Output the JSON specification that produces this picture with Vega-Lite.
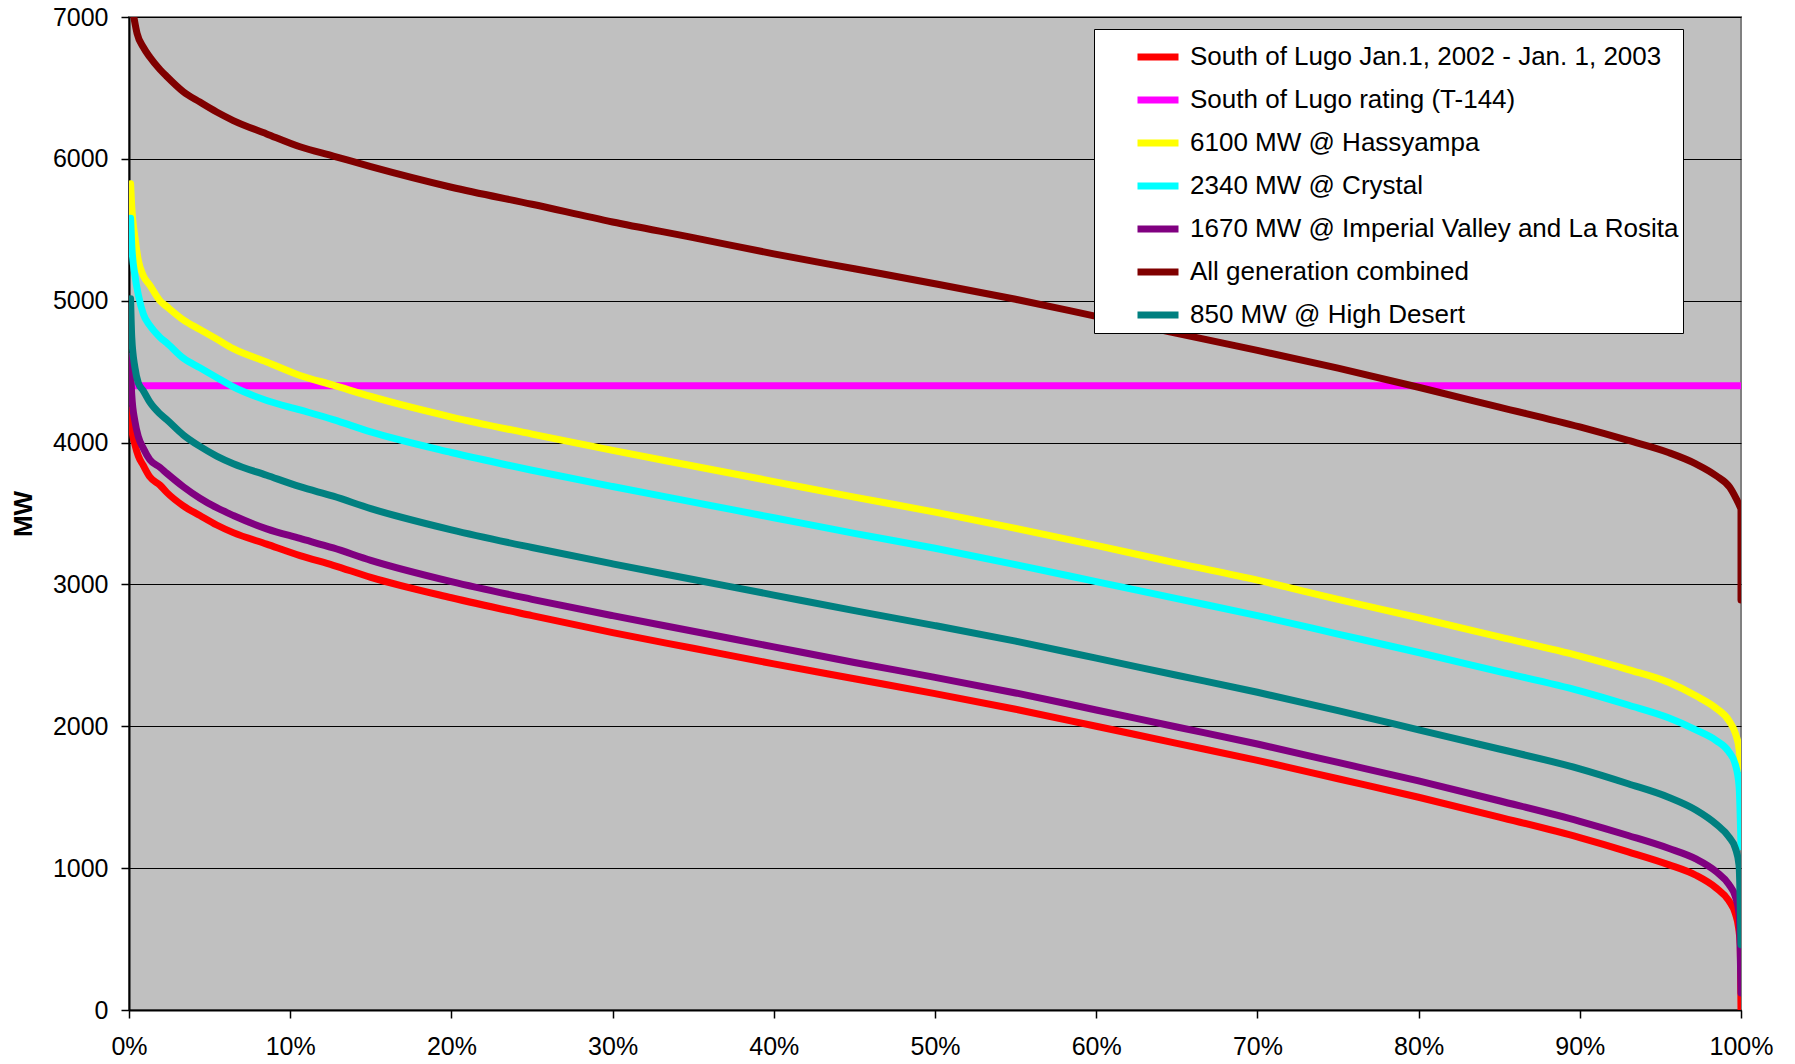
{
  "$schema": "https://vega.github.io/schema/vega-lite/v6.json",
  "width": 1612,
  "height": 993,
  "autosize": {"type": "none"},
  "padding": {"left": 129, "top": 17, "right": 54, "bottom": 54},
  "background": "white",
  "config": {
    "font": "Liberation Sans",
    "view": {"fill": "#C0C0C0", "stroke": "#808080", "strokeWidth": 2},
    "axis": {"labelFont": "Liberation Sans", "labelFontSize": 25, "labelColor": "black", "domainColor": "black", "domainWidth": 2, "tickColor": "black", "tickWidth": 1.5, "tickSize": 8, "gridColor": "black", "gridWidth": 1, "gridOpacity": 1}
  },
  "datasets": {
    "curves": [
      {"s": "South of Lugo Jan.1, 2002 - Jan. 1, 2003", "p": 0.0006, "mw": 4230},
      {"s": "South of Lugo Jan.1, 2002 - Jan. 1, 2003", "p": 0.0017, "mw": 4095},
      {"s": "South of Lugo Jan.1, 2002 - Jan. 1, 2003", "p": 0.0037, "mw": 3986},
      {"s": "South of Lugo Jan.1, 2002 - Jan. 1, 2003", "p": 0.0058, "mw": 3905},
      {"s": "South of Lugo Jan.1, 2002 - Jan. 1, 2003", "p": 0.0089, "mw": 3838},
      {"s": "South of Lugo Jan.1, 2002 - Jan. 1, 2003", "p": 0.013, "mw": 3757},
      {"s": "South of Lugo Jan.1, 2002 - Jan. 1, 2003", "p": 0.0192, "mw": 3700},
      {"s": "South of Lugo Jan.1, 2002 - Jan. 1, 2003", "p": 0.0234, "mw": 3649},
      {"s": "South of Lugo Jan.1, 2002 - Jan. 1, 2003", "p": 0.0337, "mw": 3554},
      {"s": "South of Lugo Jan.1, 2002 - Jan. 1, 2003", "p": 0.044, "mw": 3486},
      {"s": "South of Lugo Jan.1, 2002 - Jan. 1, 2003", "p": 0.0544, "mw": 3419},
      {"s": "South of Lugo Jan.1, 2002 - Jan. 1, 2003", "p": 0.0647, "mw": 3365},
      {"s": "South of Lugo Jan.1, 2002 - Jan. 1, 2003", "p": 0.0854, "mw": 3284},
      {"s": "South of Lugo Jan.1, 2002 - Jan. 1, 2003", "p": 0.1061, "mw": 3203},
      {"s": "South of Lugo Jan.1, 2002 - Jan. 1, 2003", "p": 0.1267, "mw": 3135},
      {"s": "South of Lugo Jan.1, 2002 - Jan. 1, 2003", "p": 0.15, "mw": 3050},
      {"s": "South of Lugo Jan.1, 2002 - Jan. 1, 2003", "p": 0.2, "mw": 2906},
      {"s": "South of Lugo Jan.1, 2002 - Jan. 1, 2003", "p": 0.25, "mw": 2780},
      {"s": "South of Lugo Jan.1, 2002 - Jan. 1, 2003", "p": 0.3, "mw": 2660},
      {"s": "South of Lugo Jan.1, 2002 - Jan. 1, 2003", "p": 0.35, "mw": 2550},
      {"s": "South of Lugo Jan.1, 2002 - Jan. 1, 2003", "p": 0.4, "mw": 2440},
      {"s": "South of Lugo Jan.1, 2002 - Jan. 1, 2003", "p": 0.45, "mw": 2335},
      {"s": "South of Lugo Jan.1, 2002 - Jan. 1, 2003", "p": 0.5, "mw": 2230},
      {"s": "South of Lugo Jan.1, 2002 - Jan. 1, 2003", "p": 0.55, "mw": 2120},
      {"s": "South of Lugo Jan.1, 2002 - Jan. 1, 2003", "p": 0.6, "mw": 2000},
      {"s": "South of Lugo Jan.1, 2002 - Jan. 1, 2003", "p": 0.65, "mw": 1880},
      {"s": "South of Lugo Jan.1, 2002 - Jan. 1, 2003", "p": 0.7, "mw": 1760},
      {"s": "South of Lugo Jan.1, 2002 - Jan. 1, 2003", "p": 0.75, "mw": 1630},
      {"s": "South of Lugo Jan.1, 2002 - Jan. 1, 2003", "p": 0.8, "mw": 1500},
      {"s": "South of Lugo Jan.1, 2002 - Jan. 1, 2003", "p": 0.85, "mw": 1360},
      {"s": "South of Lugo Jan.1, 2002 - Jan. 1, 2003", "p": 0.9, "mw": 1215},
      {"s": "South of Lugo Jan.1, 2002 - Jan. 1, 2003", "p": 0.93, "mw": 1115},
      {"s": "South of Lugo Jan.1, 2002 - Jan. 1, 2003", "p": 0.955, "mw": 1025},
      {"s": "South of Lugo Jan.1, 2002 - Jan. 1, 2003", "p": 0.972, "mw": 950},
      {"s": "South of Lugo Jan.1, 2002 - Jan. 1, 2003", "p": 0.9846, "mw": 860},
      {"s": "South of Lugo Jan.1, 2002 - Jan. 1, 2003", "p": 0.9925, "mw": 770},
      {"s": "South of Lugo Jan.1, 2002 - Jan. 1, 2003", "p": 0.9965, "mw": 680},
      {"s": "South of Lugo Jan.1, 2002 - Jan. 1, 2003", "p": 0.9985, "mw": 580},
      {"s": "South of Lugo Jan.1, 2002 - Jan. 1, 2003", "p": 0.9996, "mw": 450},
      {"s": "South of Lugo Jan.1, 2002 - Jan. 1, 2003", "p": 1.0, "mw": 0},

      {"s": "South of Lugo rating (T-144)", "p": 0.0, "mw": 4400},
      {"s": "South of Lugo rating (T-144)", "p": 1.0, "mw": 4400},

      {"s": "6100 MW @ Hassyampa", "p": 0.001, "mw": 5824},
      {"s": "6100 MW @ Hassyampa", "p": 0.0017, "mw": 5662},
      {"s": "6100 MW @ Hassyampa", "p": 0.0037, "mw": 5446},
      {"s": "6100 MW @ Hassyampa", "p": 0.0058, "mw": 5284},
      {"s": "6100 MW @ Hassyampa", "p": 0.0089, "mw": 5176},
      {"s": "6100 MW @ Hassyampa", "p": 0.013, "mw": 5108},
      {"s": "6100 MW @ Hassyampa", "p": 0.0192, "mw": 5000},
      {"s": "6100 MW @ Hassyampa", "p": 0.0234, "mw": 4959},
      {"s": "6100 MW @ Hassyampa", "p": 0.0337, "mw": 4865},
      {"s": "6100 MW @ Hassyampa", "p": 0.044, "mw": 4797},
      {"s": "6100 MW @ Hassyampa", "p": 0.0544, "mw": 4730},
      {"s": "6100 MW @ Hassyampa", "p": 0.0647, "mw": 4662},
      {"s": "6100 MW @ Hassyampa", "p": 0.0854, "mw": 4568},
      {"s": "6100 MW @ Hassyampa", "p": 0.1061, "mw": 4473},
      {"s": "6100 MW @ Hassyampa", "p": 0.1267, "mw": 4405},
      {"s": "6100 MW @ Hassyampa", "p": 0.15, "mw": 4325},
      {"s": "6100 MW @ Hassyampa", "p": 0.2, "mw": 4180},
      {"s": "6100 MW @ Hassyampa", "p": 0.25, "mw": 4060},
      {"s": "6100 MW @ Hassyampa", "p": 0.3, "mw": 3945},
      {"s": "6100 MW @ Hassyampa", "p": 0.35, "mw": 3835},
      {"s": "6100 MW @ Hassyampa", "p": 0.4, "mw": 3725},
      {"s": "6100 MW @ Hassyampa", "p": 0.45, "mw": 3615},
      {"s": "6100 MW @ Hassyampa", "p": 0.5, "mw": 3510},
      {"s": "6100 MW @ Hassyampa", "p": 0.55, "mw": 3395},
      {"s": "6100 MW @ Hassyampa", "p": 0.6, "mw": 3275},
      {"s": "6100 MW @ Hassyampa", "p": 0.65, "mw": 3150},
      {"s": "6100 MW @ Hassyampa", "p": 0.7, "mw": 3030},
      {"s": "6100 MW @ Hassyampa", "p": 0.75, "mw": 2895},
      {"s": "6100 MW @ Hassyampa", "p": 0.8, "mw": 2765},
      {"s": "6100 MW @ Hassyampa", "p": 0.85, "mw": 2630},
      {"s": "6100 MW @ Hassyampa", "p": 0.9, "mw": 2495},
      {"s": "6100 MW @ Hassyampa", "p": 0.93, "mw": 2400},
      {"s": "6100 MW @ Hassyampa", "p": 0.955, "mw": 2310},
      {"s": "6100 MW @ Hassyampa", "p": 0.972, "mw": 2215},
      {"s": "6100 MW @ Hassyampa", "p": 0.9846, "mw": 2127},
      {"s": "6100 MW @ Hassyampa", "p": 0.9925, "mw": 2040},
      {"s": "6100 MW @ Hassyampa", "p": 0.9965, "mw": 1950},
      {"s": "6100 MW @ Hassyampa", "p": 0.9988, "mw": 1840},
      {"s": "6100 MW @ Hassyampa", "p": 1.0, "mw": 1700},

      {"s": "2340 MW @ Crystal", "p": 0.001, "mw": 5581},
      {"s": "2340 MW @ Crystal", "p": 0.0017, "mw": 5392},
      {"s": "2340 MW @ Crystal", "p": 0.0037, "mw": 5176},
      {"s": "2340 MW @ Crystal", "p": 0.0058, "mw": 5041},
      {"s": "2340 MW @ Crystal", "p": 0.0089, "mw": 4905},
      {"s": "2340 MW @ Crystal", "p": 0.013, "mw": 4824},
      {"s": "2340 MW @ Crystal", "p": 0.0192, "mw": 4743},
      {"s": "2340 MW @ Crystal", "p": 0.0234, "mw": 4703},
      {"s": "2340 MW @ Crystal", "p": 0.0337, "mw": 4595},
      {"s": "2340 MW @ Crystal", "p": 0.044, "mw": 4527},
      {"s": "2340 MW @ Crystal", "p": 0.0544, "mw": 4459},
      {"s": "2340 MW @ Crystal", "p": 0.0647, "mw": 4392},
      {"s": "2340 MW @ Crystal", "p": 0.0854, "mw": 4297},
      {"s": "2340 MW @ Crystal", "p": 0.1061, "mw": 4230},
      {"s": "2340 MW @ Crystal", "p": 0.1267, "mw": 4162},
      {"s": "2340 MW @ Crystal", "p": 0.15, "mw": 4075},
      {"s": "2340 MW @ Crystal", "p": 0.2, "mw": 3930},
      {"s": "2340 MW @ Crystal", "p": 0.25, "mw": 3805},
      {"s": "2340 MW @ Crystal", "p": 0.3, "mw": 3690},
      {"s": "2340 MW @ Crystal", "p": 0.35, "mw": 3580},
      {"s": "2340 MW @ Crystal", "p": 0.4, "mw": 3470},
      {"s": "2340 MW @ Crystal", "p": 0.45, "mw": 3360},
      {"s": "2340 MW @ Crystal", "p": 0.5, "mw": 3255},
      {"s": "2340 MW @ Crystal", "p": 0.55, "mw": 3140},
      {"s": "2340 MW @ Crystal", "p": 0.6, "mw": 3020},
      {"s": "2340 MW @ Crystal", "p": 0.65, "mw": 2900},
      {"s": "2340 MW @ Crystal", "p": 0.7, "mw": 2780},
      {"s": "2340 MW @ Crystal", "p": 0.75, "mw": 2650},
      {"s": "2340 MW @ Crystal", "p": 0.8, "mw": 2520},
      {"s": "2340 MW @ Crystal", "p": 0.85, "mw": 2385},
      {"s": "2340 MW @ Crystal", "p": 0.9, "mw": 2250},
      {"s": "2340 MW @ Crystal", "p": 0.93, "mw": 2150},
      {"s": "2340 MW @ Crystal", "p": 0.955, "mw": 2060},
      {"s": "2340 MW @ Crystal", "p": 0.972, "mw": 1975},
      {"s": "2340 MW @ Crystal", "p": 0.9846, "mw": 1899},
      {"s": "2340 MW @ Crystal", "p": 0.9925, "mw": 1820},
      {"s": "2340 MW @ Crystal", "p": 0.9965, "mw": 1730},
      {"s": "2340 MW @ Crystal", "p": 0.9988, "mw": 1580},
      {"s": "2340 MW @ Crystal", "p": 1.0, "mw": 1150},

      {"s": "1670 MW @ Imperial Valley and La Rosita", "p": 0.0006, "mw": 4608},
      {"s": "1670 MW @ Imperial Valley and La Rosita", "p": 0.0017, "mw": 4338},
      {"s": "1670 MW @ Imperial Valley and La Rosita", "p": 0.0037, "mw": 4149},
      {"s": "1670 MW @ Imperial Valley and La Rosita", "p": 0.0058, "mw": 4041},
      {"s": "1670 MW @ Imperial Valley and La Rosita", "p": 0.0089, "mw": 3959},
      {"s": "1670 MW @ Imperial Valley and La Rosita", "p": 0.013, "mw": 3878},
      {"s": "1670 MW @ Imperial Valley and La Rosita", "p": 0.0192, "mw": 3825},
      {"s": "1670 MW @ Imperial Valley and La Rosita", "p": 0.0234, "mw": 3784},
      {"s": "1670 MW @ Imperial Valley and La Rosita", "p": 0.0337, "mw": 3689},
      {"s": "1670 MW @ Imperial Valley and La Rosita", "p": 0.044, "mw": 3608},
      {"s": "1670 MW @ Imperial Valley and La Rosita", "p": 0.0544, "mw": 3541},
      {"s": "1670 MW @ Imperial Valley and La Rosita", "p": 0.0647, "mw": 3486},
      {"s": "1670 MW @ Imperial Valley and La Rosita", "p": 0.0854, "mw": 3392},
      {"s": "1670 MW @ Imperial Valley and La Rosita", "p": 0.1061, "mw": 3324},
      {"s": "1670 MW @ Imperial Valley and La Rosita", "p": 0.1267, "mw": 3257},
      {"s": "1670 MW @ Imperial Valley and La Rosita", "p": 0.15, "mw": 3170},
      {"s": "1670 MW @ Imperial Valley and La Rosita", "p": 0.2, "mw": 3020},
      {"s": "1670 MW @ Imperial Valley and La Rosita", "p": 0.25, "mw": 2895},
      {"s": "1670 MW @ Imperial Valley and La Rosita", "p": 0.3, "mw": 2780},
      {"s": "1670 MW @ Imperial Valley and La Rosita", "p": 0.35, "mw": 2670},
      {"s": "1670 MW @ Imperial Valley and La Rosita", "p": 0.4, "mw": 2560},
      {"s": "1670 MW @ Imperial Valley and La Rosita", "p": 0.45, "mw": 2450},
      {"s": "1670 MW @ Imperial Valley and La Rosita", "p": 0.5, "mw": 2345},
      {"s": "1670 MW @ Imperial Valley and La Rosita", "p": 0.55, "mw": 2235},
      {"s": "1670 MW @ Imperial Valley and La Rosita", "p": 0.6, "mw": 2115},
      {"s": "1670 MW @ Imperial Valley and La Rosita", "p": 0.65, "mw": 1995},
      {"s": "1670 MW @ Imperial Valley and La Rosita", "p": 0.7, "mw": 1875},
      {"s": "1670 MW @ Imperial Valley and La Rosita", "p": 0.75, "mw": 1745},
      {"s": "1670 MW @ Imperial Valley and La Rosita", "p": 0.8, "mw": 1615},
      {"s": "1670 MW @ Imperial Valley and La Rosita", "p": 0.85, "mw": 1475},
      {"s": "1670 MW @ Imperial Valley and La Rosita", "p": 0.9, "mw": 1330},
      {"s": "1670 MW @ Imperial Valley and La Rosita", "p": 0.93, "mw": 1230},
      {"s": "1670 MW @ Imperial Valley and La Rosita", "p": 0.955, "mw": 1140},
      {"s": "1670 MW @ Imperial Valley and La Rosita", "p": 0.972, "mw": 1065},
      {"s": "1670 MW @ Imperial Valley and La Rosita", "p": 0.9846, "mw": 975},
      {"s": "1670 MW @ Imperial Valley and La Rosita", "p": 0.9925, "mw": 885},
      {"s": "1670 MW @ Imperial Valley and La Rosita", "p": 0.9965, "mw": 800},
      {"s": "1670 MW @ Imperial Valley and La Rosita", "p": 0.9988, "mw": 680},
      {"s": "1670 MW @ Imperial Valley and La Rosita", "p": 1.0, "mw": 120},

      {"s": "All generation combined", "p": 0.003, "mw": 7000},
      {"s": "All generation combined", "p": 0.005, "mw": 6885},
      {"s": "All generation combined", "p": 0.009, "mw": 6785},
      {"s": "All generation combined", "p": 0.013, "mw": 6716},
      {"s": "All generation combined", "p": 0.0192, "mw": 6630},
      {"s": "All generation combined", "p": 0.0234, "mw": 6581},
      {"s": "All generation combined", "p": 0.0337, "mw": 6473},
      {"s": "All generation combined", "p": 0.044, "mw": 6400},
      {"s": "All generation combined", "p": 0.0544, "mw": 6330},
      {"s": "All generation combined", "p": 0.0647, "mw": 6270},
      {"s": "All generation combined", "p": 0.0854, "mw": 6176},
      {"s": "All generation combined", "p": 0.1061, "mw": 6085},
      {"s": "All generation combined", "p": 0.1267, "mw": 6020},
      {"s": "All generation combined", "p": 0.15, "mw": 5945},
      {"s": "All generation combined", "p": 0.2, "mw": 5800},
      {"s": "All generation combined", "p": 0.25, "mw": 5680},
      {"s": "All generation combined", "p": 0.3, "mw": 5555},
      {"s": "All generation combined", "p": 0.35, "mw": 5445},
      {"s": "All generation combined", "p": 0.4, "mw": 5330},
      {"s": "All generation combined", "p": 0.45, "mw": 5225},
      {"s": "All generation combined", "p": 0.5, "mw": 5120},
      {"s": "All generation combined", "p": 0.55, "mw": 5010},
      {"s": "All generation combined", "p": 0.6, "mw": 4890},
      {"s": "All generation combined", "p": 0.65, "mw": 4770},
      {"s": "All generation combined", "p": 0.7, "mw": 4650},
      {"s": "All generation combined", "p": 0.75, "mw": 4525},
      {"s": "All generation combined", "p": 0.8, "mw": 4390},
      {"s": "All generation combined", "p": 0.85, "mw": 4250},
      {"s": "All generation combined", "p": 0.9, "mw": 4110},
      {"s": "All generation combined", "p": 0.93, "mw": 4015},
      {"s": "All generation combined", "p": 0.955, "mw": 3930},
      {"s": "All generation combined", "p": 0.972, "mw": 3850},
      {"s": "All generation combined", "p": 0.9846, "mw": 3766},
      {"s": "All generation combined", "p": 0.993, "mw": 3685},
      {"s": "All generation combined", "p": 0.997, "mw": 3605},
      {"s": "All generation combined", "p": 0.9993, "mw": 3550},
      {"s": "All generation combined", "p": 1.0, "mw": 3530},
      {"s": "All generation combined", "p": 1.0, "mw": 2890},

      {"s": "850 MW @ High Desert", "p": 0.001, "mw": 5014},
      {"s": "850 MW @ High Desert", "p": 0.0017, "mw": 4743},
      {"s": "850 MW @ High Desert", "p": 0.0037, "mw": 4527},
      {"s": "850 MW @ High Desert", "p": 0.0058, "mw": 4419},
      {"s": "850 MW @ High Desert", "p": 0.0089, "mw": 4365},
      {"s": "850 MW @ High Desert", "p": 0.013, "mw": 4284},
      {"s": "850 MW @ High Desert", "p": 0.0192, "mw": 4203},
      {"s": "850 MW @ High Desert", "p": 0.0234, "mw": 4162},
      {"s": "850 MW @ High Desert", "p": 0.0337, "mw": 4054},
      {"s": "850 MW @ High Desert", "p": 0.044, "mw": 3973},
      {"s": "850 MW @ High Desert", "p": 0.0544, "mw": 3905},
      {"s": "850 MW @ High Desert", "p": 0.0647, "mw": 3851},
      {"s": "850 MW @ High Desert", "p": 0.0854, "mw": 3770},
      {"s": "850 MW @ High Desert", "p": 0.1061, "mw": 3689},
      {"s": "850 MW @ High Desert", "p": 0.1267, "mw": 3622},
      {"s": "850 MW @ High Desert", "p": 0.15, "mw": 3535},
      {"s": "850 MW @ High Desert", "p": 0.2, "mw": 3385},
      {"s": "850 MW @ High Desert", "p": 0.25, "mw": 3260},
      {"s": "850 MW @ High Desert", "p": 0.3, "mw": 3145},
      {"s": "850 MW @ High Desert", "p": 0.35, "mw": 3035},
      {"s": "850 MW @ High Desert", "p": 0.4, "mw": 2925},
      {"s": "850 MW @ High Desert", "p": 0.45, "mw": 2815},
      {"s": "850 MW @ High Desert", "p": 0.5, "mw": 2710},
      {"s": "850 MW @ High Desert", "p": 0.55, "mw": 2600},
      {"s": "850 MW @ High Desert", "p": 0.6, "mw": 2480},
      {"s": "850 MW @ High Desert", "p": 0.65, "mw": 2360},
      {"s": "850 MW @ High Desert", "p": 0.7, "mw": 2240},
      {"s": "850 MW @ High Desert", "p": 0.75, "mw": 2110},
      {"s": "850 MW @ High Desert", "p": 0.8, "mw": 1975},
      {"s": "850 MW @ High Desert", "p": 0.85, "mw": 1840},
      {"s": "850 MW @ High Desert", "p": 0.9, "mw": 1700},
      {"s": "850 MW @ High Desert", "p": 0.93, "mw": 1595},
      {"s": "850 MW @ High Desert", "p": 0.955, "mw": 1500},
      {"s": "850 MW @ High Desert", "p": 0.972, "mw": 1410},
      {"s": "850 MW @ High Desert", "p": 0.9846, "mw": 1310},
      {"s": "850 MW @ High Desert", "p": 0.9925, "mw": 1220},
      {"s": "850 MW @ High Desert", "p": 0.9965, "mw": 1140},
      {"s": "850 MW @ High Desert", "p": 0.9988, "mw": 1020},
      {"s": "850 MW @ High Desert", "p": 1.0, "mw": 460}
    ]
  },
  "data": {"name": "curves"},
  "mark": {"type": "line", "strokeWidth": 7, "strokeCap": "round", "strokeJoin": "round", "interpolate": "monotone", "clip": true},
  "encoding": {
    "x": {
      "field": "p", "type": "quantitative",
      "scale": {"domain": [0, 1], "nice": false, "zero": false},
      "axis": {"title": null, "values": [0, 0.1, 0.2, 0.3, 0.4, 0.5, 0.6, 0.7, 0.8, 0.9, 1], "format": ".0%", "grid": false, "labelPadding": 16, "labelFlush": false}
    },
    "y": {
      "field": "mw", "type": "quantitative",
      "scale": {"domain": [0, 7000], "nice": false},
      "axis": {"title": "MW", "titleFontSize": 26, "titleFontWeight": "bold", "titleColor": "black", "titlePadding": 16, "values": [0, 1000, 2000, 3000, 4000, 5000, 6000, 7000], "format": "d", "grid": true, "labelPadding": 13, "labelFlush": false}
    },
    "order": {"field": "mw", "sort": "descending"},
    "color": {
      "field": "s", "type": "nominal",
      "scale": {
        "domain": ["South of Lugo Jan.1, 2002 - Jan. 1, 2003", "South of Lugo rating (T-144)", "6100 MW @ Hassyampa", "2340 MW @ Crystal", "1670 MW @ Imperial Valley and La Rosita", "All generation combined", "850 MW @ High Desert"],
        "range": ["#FF0000", "#FF00FF", "#FFFF00", "#00FFFF", "#800080", "#800000", "#008080"]
      },
      "legend": {
        "title": null,
        "orient": "none",
        "legendX": 965,
        "legendY": 12,
        "padding": 4,
        "fillColor": "white",
        "strokeColor": "black",
        "symbolType": "stroke",
        "symbolSize": 1681,
        "symbolStrokeWidth": 7,
        "symbolOffset": 36,
        "labelOffset": 8,
        "labelFont": "Liberation Sans",
        "labelFontSize": 26,
        "labelColor": "black",
        "labelLimit": 700,
        "rowPadding": 5
      }
    }
  }
}
